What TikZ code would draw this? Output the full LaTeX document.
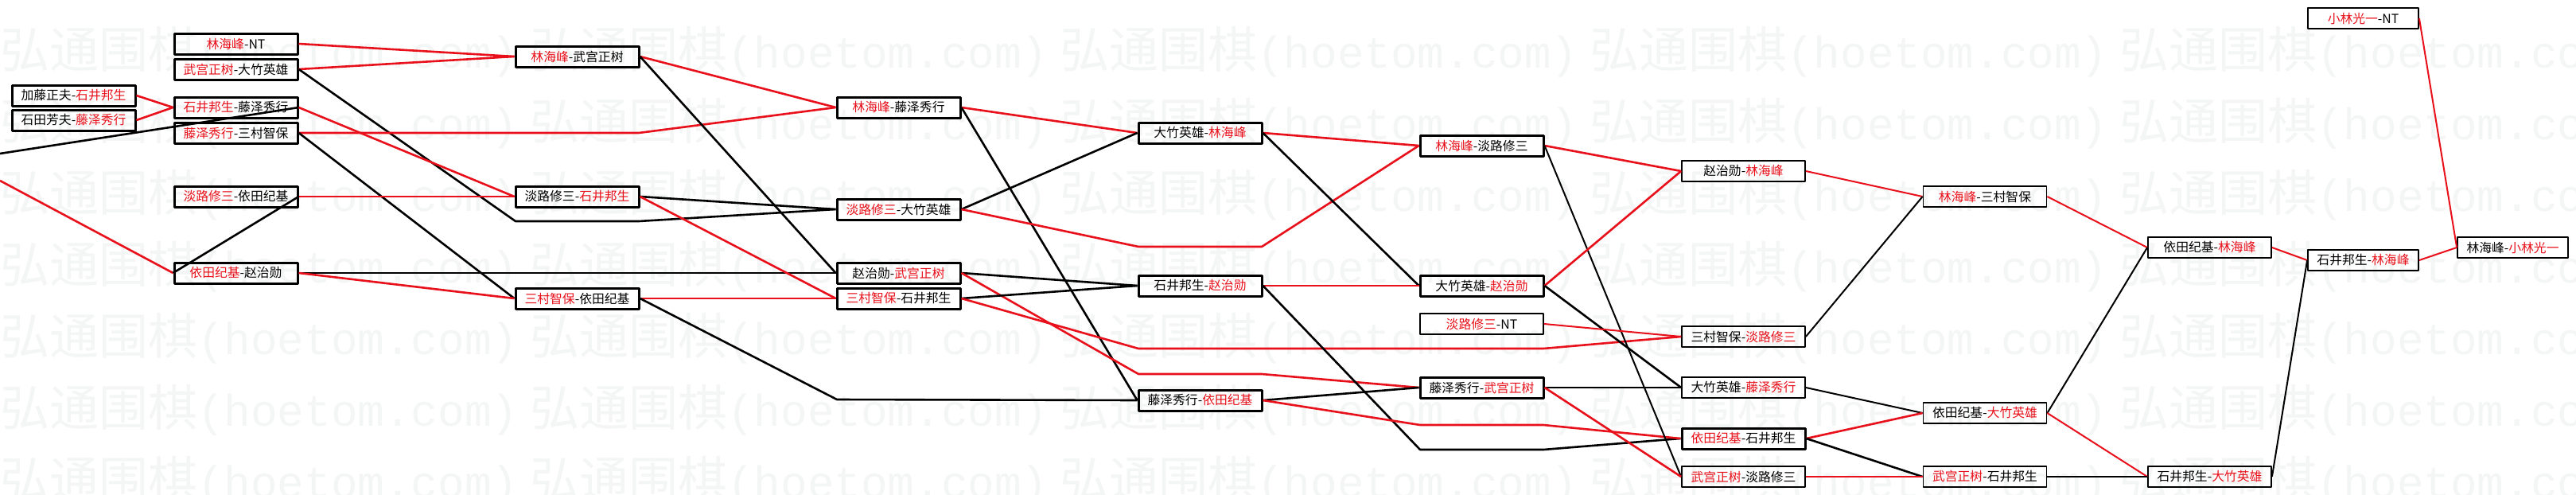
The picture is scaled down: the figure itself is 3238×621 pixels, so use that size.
\documentclass[tikz,border=0pt]{standalone}
\usepackage{fontspec}
\newfontfamily\cjk{Noto Sans CJK SC}
\newfontfamily\wmmono{Liberation Mono}
\definecolor{hred}{HTML}{E8101A}
\definecolor{wmark}{HTML}{F4F5F5}
\newcommand{\rd}[1]{\textcolor{hred}{#1}}

\begin{document}
\begin{tikzpicture}[x=1pt, y=-1pt, line join=round]
\tikzset{
  bout/.style={draw, line width=3pt, minimum width=155pt, minimum height=26pt, inner sep=0pt, font=\cjk\fontsize{15.8}{16}\selectfont},
  boutlt/.style={bout, line width=1.8pt},
  boutsm/.style={boutlt, minimum width=139pt},
  rl/.style={hred, line width=2.6pt},
  bl/.style={black, line width=2.6pt},
  rlt/.style={hred, line width=2pt},
  blt/.style={black, line width=2pt},
  wm/.style={text=wmark, anchor=west, inner sep=0pt}
}

% Background
\fill[white] (0,0) rectangle (3238,621);
\useasboundingbox (0,0) rectangle (3238,621);

% Watermark
\begin{scope}
\clip (0,0) rectangle (3238,621);
\foreach \r in {0,...,6} {
  \foreach \c in {0,...,4} {
    \node[wm] (wm-\r-\c) at (666*\c, 65+90*\r) {{\cjk\fontsize{62}{62}\selectfont 弘通围棋}{\wmmono\fontsize{56}{56}\selectfont (hoetom.com)}};
  }
}
\end{scope}

% Round 0
\node[bout] (k1) at (92.5,120) {加藤正夫-\rd{石井邦生}};
\node[bout] (k2) at (92.5,151) {石田芳夫-\rd{藤泽秀行}};

% Round 1
\node[bout] (a1) at (296.5,55) {\rd{林海峰}-NT};
\node[bout] (a2) at (296.5,87) {\rd{武宫正树}-大竹英雄};
\node[bout] (a3) at (296.5,135) {\rd{石井邦生}-藤泽秀行};
\node[bout] (a4) at (296.5,167) {\rd{藤泽秀行}-三村智保};
\node[bout] (a5) at (296.5,247) {\rd{淡路修三}-依田纪基};
\node[bout] (a6) at (296.5,343) {\rd{依田纪基}-赵治勋};

% Round 2
\node[bout] (b1) at (725.5,71) {\rd{林海峰}-武宫正树};
\node[bout] (b2) at (725.5,247) {淡路修三-\rd{石井邦生}};
\node[bout] (b3) at (725.5,375) {\rd{三村智保}-依田纪基};

% Round 3
\node[bout] (c1) at (1129.5,135) {\rd{林海峰}-藤泽秀行};
\node[bout] (c2) at (1129.5,263) {\rd{淡路修三}-大竹英雄};
\node[bout] (c3) at (1129.5,343) {赵治勋-\rd{武宫正树}};
\node[bout] (c4) at (1129.5,375) {\rd{三村智保}-石井邦生};

% Round 4
\node[bout] (d1) at (1508.5,167) {大竹英雄-\rd{林海峰}};
\node[bout] (d2) at (1508.5,359) {石井邦生-\rd{赵治勋}};
\node[bout] (d3) at (1508.5,503) {藤泽秀行-\rd{依田纪基}};

% Round 5
\node[bout] (e1) at (1862.5,183) {\rd{林海峰}-淡路修三};
\node[bout] (e2) at (1862.5,359) {大竹英雄-\rd{赵治勋}};
\node[boutlt] (e3) at (1862.5,407) {\rd{淡路修三}-NT};
\node[bout] (e4) at (1862.5,487) {藤泽秀行-\rd{武宫正树}};

% Round 6
\node[boutlt] (f1) at (2191.5,215) {赵治勋-\rd{林海峰}};
\node[boutlt] (f2) at (2191.5,423) {三村智保-\rd{淡路修三}};
\node[boutlt] (f3) at (2191.5,487) {大竹英雄-\rd{藤泽秀行}};
\node[bout] (f4) at (2191.5,551) {\rd{依田纪基}-石井邦生};
\node[boutlt] (f5) at (2191.5,599) {\rd{武宫正树}-淡路修三};

% Round 7
\node[boutlt] (g1) at (2495,247) {\rd{林海峰}-三村智保};
\node[boutlt] (g2) at (2495,519) {依田纪基-\rd{大竹英雄}};
\node[boutlt] (g3) at (2495,599) {\rd{武宫正树}-石井邦生};

% Round 8 and final
\node[boutlt] (h1) at (2777.5,311) {依田纪基-\rd{林海峰}};
\node[boutlt] (h2) at (2777.5,599) {石井邦生-\rd{大竹英雄}};
\node[boutsm] (i1) at (2970.5,327) {石井邦生-\rd{林海峰}};
\node[boutsm] (i0) at (2970.5,23) {\rd{小林光一}-NT};
\node[boutsm] (j1) at (3158.5,311) {林海峰-\rd{小林光一}};

% Bends and free ends
\coordinate (fa) at (0,193);
\coordinate (fb) at (0,227);
\coordinate (v1) at (648,278);
\coordinate (v2) at (803,278);
\coordinate (v3) at (803,167);
\coordinate (v4) at (1052,502);
\coordinate (v5) at (1431,310);
\coordinate (v6) at (1586,310);
\coordinate (v7) at (1431,470);
\coordinate (v8) at (1586,470);
\coordinate (v9) at (1431,438);
\coordinate (v10) at (1940,438);
\coordinate (v11) at (1785,565);
\coordinate (v12) at (1940,565);
\coordinate (v13) at (1785,534);
\coordinate (v14) at (1940,534);

% Connectors
\draw[rl] (k1.east) -- (a3.west);
\draw[rl] (k2.east) -- (a3.west);
\draw[bl] (fa) -- (a3.east);
\draw[rl] (fb) -- (a6.west);

\draw[rl] (a1.east) -- (b1.west);
\draw[rl] (a2.east) -- (b1.west);
\draw[bl] (a2.east) -- (v1) -- (v2) -- (c2.west);
\draw[rl] (a3.east) -- (b2.west);
\draw[rl] (a4.east) -- (v3) -- (c1.west);
\draw[bl] (a4.east) -- (b3.west);
\draw[rl] (a5.east) -- (b2.west);
\draw[bl] (a6.west) -- (a5.east);
\draw[bl] (a6.east) -- (c3.west);
\draw[rl] (a6.east) -- (b3.west);

\draw[rl] (b1.east) -- (c1.west);
\draw[bl] (b1.east) -- (c3.west);
\draw[bl] (b2.east) -- (c2.west);
\draw[rl] (b2.east) -- (c4.west);
\draw[rl] (b3.east) -- (c4.west);
\draw[bl] (b3.east) -- (v4) -- (d3.west);

\draw[rl] (c1.east) -- (d1.west);
\draw[bl] (c1.east) -- (d3.west);
\draw[bl] (c2.east) -- (d1.west);
\draw[rl] (c2.east) -- (v5) -- (v6) -- (e1.west);
\draw[bl] (c3.east) -- (d2.west);
\draw[rl] (c3.east) -- (v7) -- (v8) -- (e4.west);
\draw[bl] (c4.east) -- (d2.west);
\draw[rl] (c4.east) -- (v9) -- (v10) -- (f2.west);

\draw[rl] (d1.east) -- (e1.west);
\draw[bl] (d1.east) -- (e2.west);
\draw[rl] (d2.east) -- (e2.west);
\draw[bl] (d2.east) -- (v11) -- (v12) -- (f4.west);
\draw[bl] (d3.east) -- (e4.west);
\draw[rl] (d3.east) -- (v13) -- (v14) -- (f4.west);

\draw[rl] (e1.east) -- (f1.west);
\draw[blt] (e1.east) -- (f5.west);
\draw[rl] (e2.east) -- (f1.west);
\draw[bl] (e2.east) -- (f3.west);
\draw[rlt] (e3.east) -- (f2.west);
\draw[bl] (e4.east) -- (f3.west);
\draw[rl] (e4.east) -- (f5.west);

\draw[rlt] (f1.east) -- (g1.west);
\draw[blt] (f2.east) -- (g1.west);
\draw[blt] (f3.east) -- (g2.west);
\draw[rl] (f4.east) -- (g2.west);
\draw[bl] (f4.east) -- (g3.west);
\draw[rlt] (f5.east) -- (g3.west);

\draw[rlt] (g1.east) -- (h1.west);
\draw[blt] (g2.east) -- (h1.west);
\draw[rlt] (g2.east) -- (h2.west);
\draw[blt] (g3.east) -- (h2.west);

\draw[rlt] (h1.east) -- (i1.west);
\draw[blt] (h2.east) -- (i1.west);
\draw[rlt] (i1.east) -- (j1.west);
\draw[rlt] (i0.east) -- (j1.west);

\end{tikzpicture}
\end{document}
